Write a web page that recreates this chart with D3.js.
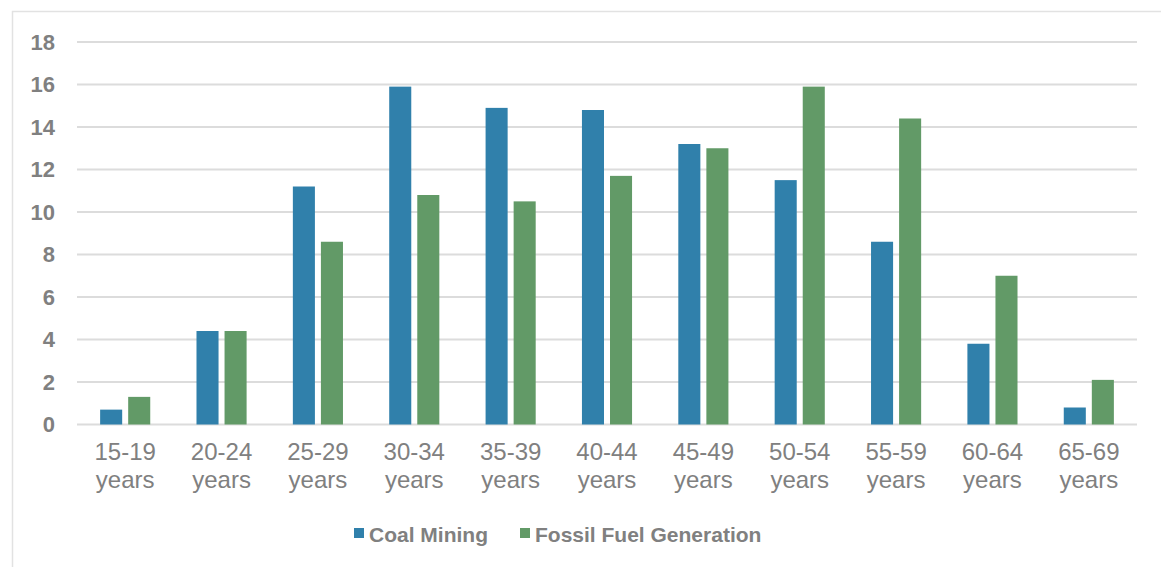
<!DOCTYPE html>
<html>
<head>
<meta charset="utf-8">
<script src="https://cdn.jsdelivr.net/npm/d3@7"></script>
<style>
  html, body { margin: 0; padding: 0; background: #ffffff; }
  svg { display: block; }
</style>
</head>
<body>
<svg id="chart" width="1161" height="567"></svg>
<script>
// Age groups and share of workforce (%) in each sector
const categories = ["15-19", "20-24", "25-29", "30-34", "35-39", "40-44", "45-49", "50-54", "55-59", "60-64", "65-69"];
const seriesNames = ["Coal Mining", "Fossil Fuel Generation"];
const coalMining = [0.7, 4.4, 11.2, 15.9, 14.9, 14.8, 13.2, 11.5, 8.6, 3.8, 0.8];
const fossilFuelGeneration = [1.3, 4.4, 8.6, 10.8, 10.5, 11.7, 13.0, 15.9, 14.4, 7.0, 2.1];
const yTicks = [0, 2, 4, 6, 8, 10, 12, 14, 16, 18];
const colors = ["#3080ab", "#629a67"];

const seriesValues = [coalMining, fossilFuelGeneration];
const rows = categories.map((c, i) => ({
  category: c,
  values: seriesNames.map((s, j) => ({ series: s, value: seriesValues[j][i] }))
}));

const svg = d3.select("#chart");
const textColor = "#808080";
const font = "'Liberation Sans', Arial, sans-serif";

// outer frame
svg.append("path")
  .attr("d", "M12.5,600 V11.5 H1200")
  .attr("fill", "none")
  .attr("stroke", "#e2e2e2")
  .attr("stroke-width", 1.5);

const plot = { left: 77, right: 1137, top: 42, bottom: 424.5 };

const x0 = d3.scaleBand()
  .domain(categories)
  .range([plot.left, plot.right])
  .paddingInner(0.48)
  .paddingOuter(0.24);

const x1 = d3.scaleBand()
  .domain(seriesNames)
  .range([0, x0.bandwidth()])
  .paddingInner(0.214);

const y = d3.scaleLinear()
  .domain([0, 18])
  .range([plot.bottom, plot.top]);

// horizontal gridlines
svg.append("g")
  .selectAll("line")
  .data(yTicks)
  .join("line")
  .attr("x1", plot.left)
  .attr("x2", plot.right)
  .attr("y1", d => y(d))
  .attr("y2", d => y(d))
  .attr("stroke", "#dcdcdc")
  .attr("stroke-width", 2);

// y axis labels
const yAxis = d3.axisLeft(y).tickValues(yTicks).tickSize(0).tickPadding(0).tickFormat(d3.format("d"));
const gy = svg.append("g")
  .attr("transform", `translate(${plot.left - 22},0)`)
  .call(yAxis);
gy.select(".domain").remove();
gy.selectAll("text")
  .attr("fill", textColor)
  .style("font-family", font)
  .style("font-size", "22px")
  .style("font-weight", "bold");

// bars
svg.append("g")
  .selectAll("g")
  .data(rows)
  .join("g")
  .attr("transform", d => `translate(${x0(d.category)},0)`)
  .selectAll("rect")
  .data(d => d.values)
  .join("rect")
  .attr("x", d => x1(d.series))
  .attr("width", x1.bandwidth())
  .attr("y", d => y(d.value))
  .attr("height", d => y(0) - y(d.value))
  .attr("fill", (d, i) => colors[i]);

// x axis labels (two lines)
const xAxis = d3.axisBottom(x0).tickSize(0).tickFormat(() => "");
const gx = svg.append("g")
  .attr("transform", `translate(0,${plot.bottom})`)
  .call(xAxis);
gx.select(".domain").remove();
gx.selectAll(".tick").each(function(d) {
  const t = d3.select(this).append("text")
    .attr("text-anchor", "middle")
    .attr("fill", textColor)
    .style("font-family", font)
    .style("font-size", "24px");
  t.append("tspan").attr("x", 0).attr("y", 35).text(d);
  t.append("tspan").attr("x", 0).attr("y", 63).text("years");
});

// legend
const legendItems = [
  { name: seriesNames[0], x: 354, color: colors[0] },
  { name: seriesNames[1], x: 520, color: colors[1] }
];
const legend = svg.append("g");
const li = legend.selectAll("g").data(legendItems).join("g")
  .attr("transform", d => `translate(${d.x},0)`);
li.append("rect")
  .attr("x", 0).attr("y", 528)
  .attr("width", 10).attr("height", 10)
  .attr("fill", d => d.color);
li.append("text")
  .attr("x", 15).attr("y", 542)
  .attr("fill", textColor)
  .style("font-family", font)
  .style("font-size", "21px")
  .style("font-weight", "bold")
  .text(d => d.name);
</script>
</body>
</html>
